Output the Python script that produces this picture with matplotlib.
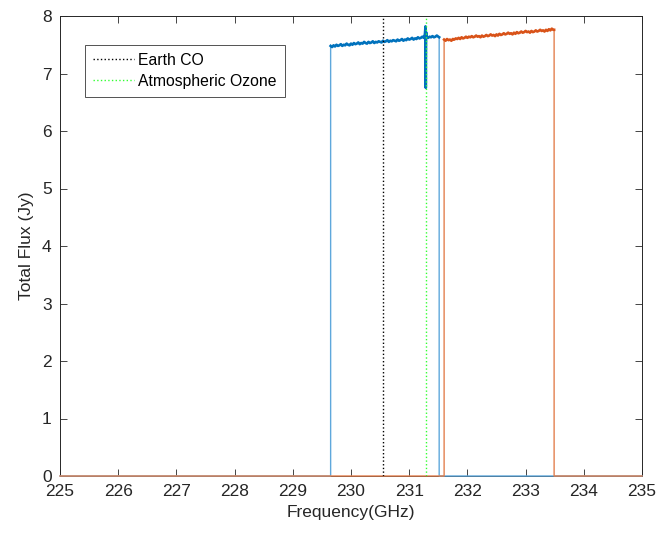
import matplotlib
matplotlib.use("Agg")
import matplotlib.pyplot as plt

plt.rcParams['font.family'] = ['Liberation Sans', 'DejaVu Sans']

# Spectral window 1 (blue): channel frequencies (GHz) and flux (Jy)
blue_freq = [229.650, 229.675, 229.700, 229.725, 229.750, 229.775, 229.800, 229.825,
             229.850, 229.875, 229.900, 229.925, 229.950, 229.975, 230.000, 230.025,
             230.050, 230.075, 230.100, 230.125, 230.150, 230.175, 230.200, 230.225,
             230.250, 230.275, 230.300, 230.325, 230.350, 230.375, 230.400, 230.425,
             230.450, 230.475, 230.500, 230.525, 230.550, 230.575, 230.600, 230.625,
             230.650, 230.675, 230.700, 230.725, 230.750, 230.775, 230.800, 230.825,
             230.850, 230.875, 230.900, 230.925, 230.950, 230.975, 231.000, 231.025,
             231.050, 231.075, 231.100, 231.125, 231.150, 231.175, 231.200, 231.225,
             231.250, 231.270, 231.280, 231.285, 231.290, 231.300, 231.325, 231.350,
             231.375, 231.400, 231.425, 231.450, 231.475, 231.500, 231.515]
blue_flux = [7.48, 7.46, 7.49, 7.47, 7.50, 7.48, 7.49, 7.51,
             7.48, 7.50, 7.49, 7.52, 7.50, 7.49, 7.52, 7.50,
             7.53, 7.51, 7.52, 7.54, 7.51, 7.53, 7.52, 7.55,
             7.53, 7.52, 7.55, 7.53, 7.54, 7.56, 7.53, 7.55,
             7.54, 7.56, 7.55, 7.54, 7.57, 7.55, 7.56, 7.58,
             7.55, 7.57, 7.56, 7.58, 7.57, 7.56, 7.59, 7.57,
             7.58, 7.60, 7.57, 7.59, 7.58, 7.61, 7.59, 7.60,
             7.62, 7.59, 7.61, 7.60, 7.63, 7.61, 7.62, 7.64,
             7.62, 7.68, 7.82, 6.75, 7.72, 7.64, 7.62, 7.64,
             7.63, 7.65, 7.63, 7.64, 7.66, 7.64, 7.63]

# Spectral window 2 (orange)
orange_freq = [231.600, 231.625, 231.650, 231.675, 231.700, 231.725, 231.750, 231.775,
               231.800, 231.825, 231.850, 231.875, 231.900, 231.925, 231.950, 231.975,
               232.000, 232.025, 232.050, 232.075, 232.100, 232.125, 232.150, 232.175,
               232.200, 232.225, 232.250, 232.275, 232.300, 232.325, 232.350, 232.375,
               232.400, 232.425, 232.450, 232.475, 232.500, 232.525, 232.550, 232.575,
               232.600, 232.625, 232.650, 232.675, 232.700, 232.725, 232.750, 232.775,
               232.800, 232.825, 232.850, 232.875, 232.900, 232.925, 232.950, 232.975,
               233.000, 233.025, 233.050, 233.075, 233.100, 233.125, 233.150, 233.175,
               233.200, 233.225, 233.250, 233.275, 233.300, 233.325, 233.350, 233.375,
               233.400, 233.425, 233.450, 233.475, 233.490]
orange_flux = [7.59, 7.57, 7.60, 7.58, 7.59, 7.57, 7.60, 7.59,
               7.61, 7.60, 7.62, 7.60, 7.63, 7.61, 7.62, 7.64,
               7.62, 7.64, 7.63, 7.65, 7.63, 7.64, 7.66, 7.64,
               7.65, 7.63, 7.66, 7.64, 7.65, 7.67, 7.65, 7.66,
               7.68, 7.66, 7.67, 7.65, 7.68, 7.66, 7.69, 7.67,
               7.68, 7.70, 7.68, 7.69, 7.71, 7.69, 7.70, 7.68,
               7.71, 7.69, 7.72, 7.70, 7.71, 7.73, 7.71, 7.72,
               7.74, 7.72, 7.73, 7.71, 7.74, 7.72, 7.73, 7.75,
               7.73, 7.74, 7.76, 7.74, 7.75, 7.73, 7.76, 7.74,
               7.77, 7.75, 7.78, 7.76, 7.76]

x_range = [225, 235]
earth_co = 230.545
ozone = 231.29
xticks = [225, 226, 227, 228, 229, 230, 231, 232, 233, 234, 235]
yticks = [0, 1, 2, 3, 4, 5, 6, 7, 8]

fig = plt.figure(figsize=(6.61, 5.38), dpi=100)
ax = fig.add_axes([60/661, 62/538, 582/661, 460/538])

# full-band (zero-padded) outlines in lighter tones
blue_full_x = [x_range[0], blue_freq[0]] + blue_freq + [blue_freq[-1], x_range[1]]
blue_full_y = [0, 0] + blue_flux + [0, 0]
orange_full_x = [x_range[0], orange_freq[0]] + orange_freq + [orange_freq[-1], x_range[1]]
orange_full_y = [0, 0] + orange_flux + [0, 0]

ax.plot(blue_full_x, blue_full_y, color='#5FA8DC', lw=1.0, zorder=3, clip_on=False)
ax.plot(orange_full_x, orange_full_y, color='#E3804F', lw=1.0, zorder=3, clip_on=False)
ax.plot(blue_freq, blue_flux, color='#0072BD', lw=1.9, zorder=4)
ax.plot(orange_freq, orange_flux, color='#D95319', lw=1.9, zorder=4)

l1, = ax.plot([earth_co, earth_co], [0, 8], color='black', ls=':', lw=1.0, zorder=5)
l2, = ax.plot([ozone, ozone], [0, 8], color='#33FF33', ls=':', lw=1.0, zorder=5)

ax.set_xlim(x_range)
ax.set_ylim(0, 8)
ax.set_xticks(xticks)
ax.set_yticks(yticks)
ax.tick_params(direction='in', length=5, width=0.6, top=True, right=True,
               labelsize=12.5, colors='#262626', pad=6)
for s in ax.spines.values():
    s.set_color('#262626')
    s.set_linewidth(0.7)
ax.set_xlabel('Frequency(GHz)', fontsize=12.5, color='#262626', labelpad=4)
ax.set_ylabel('Total Flux (Jy)', fontsize=12.5, color='#262626', labelpad=6)

leg = ax.legend([l1, l2], ['Earth CO', 'Atmospheric Ozone'], loc='upper left',
                bbox_to_anchor=(0.043, 0.937), fontsize=11.3, frameon=True,
                fancybox=False, handlelength=2.6, handletextpad=0.3,
                borderpad=0.5, labelspacing=0.38, borderaxespad=0)
leg.get_frame().set_edgecolor('#262626')
leg.get_frame().set_linewidth(0.7)

fig.savefig('out.png', dpi=100)
